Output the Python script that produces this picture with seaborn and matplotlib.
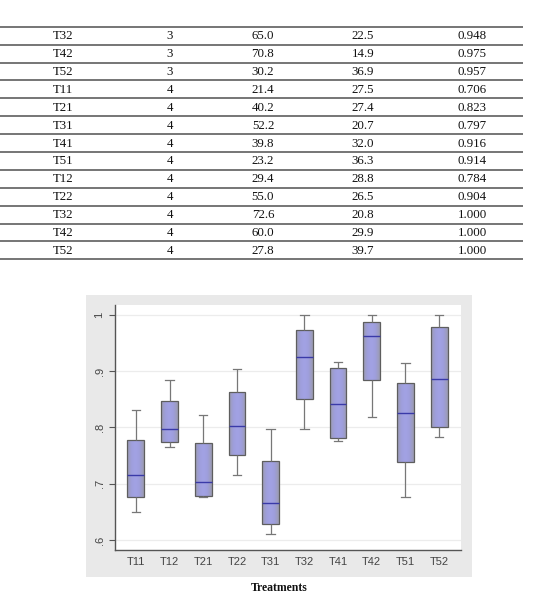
import numpy as np
import pandas as pd
import matplotlib
matplotlib.use("Agg")
import matplotlib.pyplot as plt
from matplotlib.colors import LinearSegmentedColormap
import seaborn as sns

# ---------- TABLE DATA ----------
tab_treat = ["T32", "T42", "T52", "T11", "T21", "T31", "T41",
             "T51", "T12", "T22", "T32", "T42", "T52"]
tab_rep = ["3", "3", "3", "4", "4", "4", "4", "4", "4", "4", "4", "4", "4"]
tab_c3 = ["65.0", "70.8", "30.2", "21.4", "40.2", "52.2", "39.8",
          "23.2", "29.4", "55.0", "72.6", "60.0", "27.8"]
tab_c4 = ["22.5", "14.9", "36.9", "27.5", "27.4", "20.7", "32.0",
          "36.3", "28.8", "26.5", "20.8", "29.9", "39.7"]
tab_c5 = ["0.948", "0.975", "0.957", "0.706", "0.823", "0.797", "0.916",
          "0.914", "0.784", "0.904", "1.000", "1.000", "1.000"]

# ---------- BOXPLOT DATA (five-number summaries) ----------
treatments = ["T11", "T12", "T21", "T22", "T31", "T32", "T41", "T42", "T51", "T52"]
w_lo = [0.650, 0.766, 0.676, 0.715, 0.610, 0.798, 0.776, 0.819, 0.676, 0.783]
q1 = [0.677, 0.775, 0.678, 0.751, 0.629, 0.851, 0.781, 0.884, 0.739, 0.800]
med = [0.716, 0.797, 0.703, 0.803, 0.666, 0.925, 0.841, 0.963, 0.826, 0.887]
q3 = [0.778, 0.847, 0.772, 0.863, 0.740, 0.974, 0.905, 0.987, 0.880, 0.978]
w_hi = [0.832, 0.884, 0.822, 0.904, 0.797, 1.000, 0.916, 1.000, 0.915, 1.000]

ytick_vals = [0.6, 0.7, 0.8, 0.9, 1.0]
ytick_labels = [".6", ".7", ".8", ".9", "1"]
x_label = "Treatments"

# long table: five values per group reproduce the summary exactly
rows = []
for i, t in enumerate(treatments):
    for v in (w_lo[i], q1[i], med[i], q3[i], w_hi[i]):
        rows.append({"Treatment": t, "value": v})
df = pd.DataFrame(rows)

# ---------- FIGURE ----------
W, H = 550, 606
fig = plt.figure(figsize=(W / 100, H / 100), dpi=100)

# page layer in pixel coords (table, grey panel, caption)
page = fig.add_axes([0, 0, 1, 1], zorder=0)
page.set_xlim(0, W)
page.set_ylim(H, 0)
page.axis("off")

row_h = 17.9
top = 26.7
col_x = [63, 170, 263, 363, 472]
for i in range(len(tab_treat) + 1):
    y = top + i * row_h
    page.plot([0, 523], [y, y], color="#6a6a6a", lw=1.3, solid_capstyle="butt")
for i, cells in enumerate(zip(tab_treat, tab_rep, tab_c3, tab_c4, tab_c5)):
    y = top + (i + 0.5) * row_h
    for x, c in zip(col_x, cells):
        page.text(x, y + 0.5, c, ha="center", va="center", fontsize=9.3,
                  family="Liberation Serif", color="#111111")

page.add_patch(plt.Rectangle((86, 295), 386, 282, facecolor="#e9e9e9",
                             edgecolor="none"))
page.text(279, 588, x_label, ha="center", va="center", fontsize=8.5,
          family="Liberation Serif", fontweight="bold", color="#111111")

# ---------- BOXPLOT ----------
ax = fig.add_axes([115 / W, 1 - 550 / H, 346 / W, 245 / H], zorder=1)
ax.set_facecolor("white")

sns.boxplot(data=df, x="Treatment", y="value", order=treatments, ax=ax,
            whis=(0, 100), width=0.5, color="#9d9dd0", linecolor="#5e5e5e",
            linewidth=0.9, fliersize=0,
            medianprops={"color": "#3a3aa8", "linewidth": 1.0},
            whiskerprops={"color": "#777777"}, capprops={"color": "#777777"})

# grey -> lavender -> grey shading inside each box
shade = LinearSegmentedColormap.from_list(
    "shade", ["#9c9cb0", "#9e9edc", "#a2a2e4", "#9e9edc", "#9c9cb0"])
grad = np.linspace(0, 1, 64).reshape(1, -1)
for p in list(ax.patches):
    ext = p.get_path().get_extents()
    im = ax.imshow(grad, cmap=shade, aspect="auto", interpolation="bicubic",
                   extent=[ext.x0, ext.x1, ext.y0, ext.y1], zorder=1.5)
    im.set_clip_path(p)
    p.set_facecolor("none")
    p.set_zorder(2.2)
for ln in ax.lines:
    ln.set_zorder(2.5)

ax.set_xlim(-0.62, 9.65)
ax.set_ylim(0.582, 1.018)
ax.set_yticks(ytick_vals)
ax.set_yticklabels(ytick_labels, rotation=90, va="center",
                   family="Liberation Sans", fontsize=8, color="#444444")
ax.tick_params(axis="y", length=4.5, width=0.8, color="#555555", pad=3)
ax.tick_params(axis="x", length=0, pad=5, labelsize=8, labelcolor="#444444")
for lab in ax.get_xticklabels():
    lab.set_family("Liberation Sans")
ax.set_xlabel("")
ax.set_ylabel("")
ax.grid(axis="y", color="#ececec", lw=0.9)
ax.set_axisbelow(True)
for s in ("top", "right"):
    ax.spines[s].set_visible(False)
for s in ("left", "bottom"):
    ax.spines[s].set_color("#555555")
    ax.spines[s].set_linewidth(1.0)

fig.savefig("out.png", dpi=100)
